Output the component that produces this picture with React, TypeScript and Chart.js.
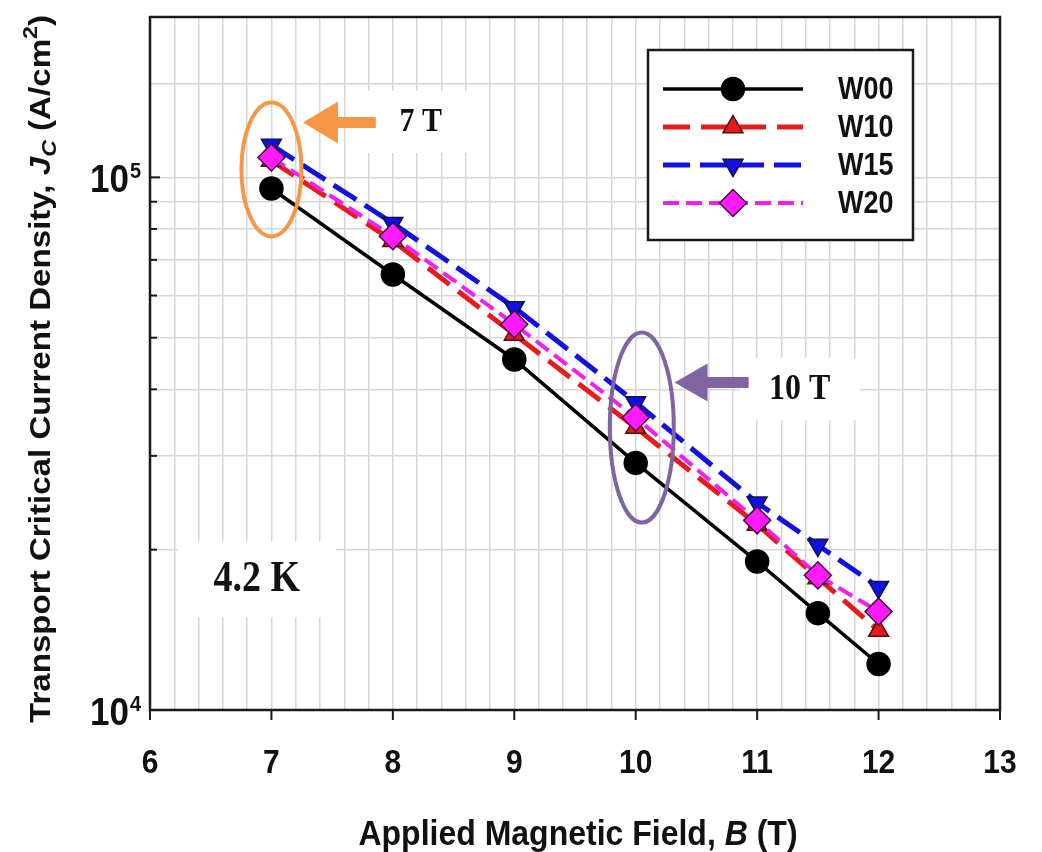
import React, { useEffect, useRef } from "react";
import { Chart, registerables } from "chart.js";

Chart.register(...registerables);

// ---- data ----
const fieldB = [7, 8, 9, 10, 11, 11.5, 12];
const jcW00 = [95300, 65700, 45500, 29100, 19000, 15200, 12200];
const jcW10 = [107500, 76000, 50700, 33900, 22300, 17700, 14100];
const jcW15 = [115000, 82000, 57000, 37800, 24500, 20400, 17000];
const jcW20 = [109000, 77500, 53000, 35400, 22700, 17900, 15300];
const seriesNames = ["W00", "W10", "W15", "W20"];
const xTickValues = [6, 7, 8, 9, 10, 11, 12, 13];
const yMajorTicks = [10000, 100000];
const yMajorExponents = ["4", "5"];
const yMinorTicks = [20000, 30000, 40000, 50000, 60000, 70000, 80000, 90000, 200000];

// ---- annotations (data coordinates) ----
const annotEllipses = [
  { x: 7, y: 103500, rx: 30, ry: 67, color: "#f79646" },
  { x: 10.05, y: 33900, rx: 32, ry: 95, color: "#8064a2" },
];
const annotArrows = [
  { from: 7.86, to: 7.26, y: 126800, color: "#f79646", head: 35, half: 21 },
  { from: 10.93, to: 10.32, y: 41200, color: "#8064a2", head: 33, half: 19 },
];
const annotTexts = [
  { text: "7 T", x: 8.23, y: 127000, size: 30, boxW: 110, boxH: 62 },
  { text: "10 T", x: 11.35, y: 40000, size: 32, boxW: 120, boxH: 62 },
  { text: "4.2 K", x: 6.88, y: 17600, size: 38, boxW: 158, boxH: 76 },
];

const SANS = '"Liberation Sans", Arial, sans-serif';
const SERIF = '"Liberation Serif", "Times New Roman", serif';

const styles = [
  { color: "#000000", dash: [] as number[], width: 3.5, point: "circle", radius: 11.5, bg: "#000000", border: "#000000", rot: 0 },
  { color: "#e51c1c", dash: [27, 11], width: 5, point: "triangle", radius: 11.5, bg: "#e8191c", border: "#4a1208", rot: 0 },
  { color: "#1010e0", dash: [27, 10], width: 5, point: "triangle", radius: 11.5, bg: "#1010e6", border: "#10104a", rot: 180 },
  { color: "#f21ef2", dash: [16, 7], width: 4, point: "rectRot", radius: 13.5, bg: "#ff1aff", border: "#4a0a3a", rot: 0 },
];
const seriesData = [jcW00, jcW10, jcW15, jcW20];

function drawRuns(ctx: CanvasRenderingContext2D, runs: { t: string; f: string; dy?: number }[], cx: number, cy: number, rot: number, sx: number, sy: number, fitWidth?: number) {
  ctx.save();
  ctx.translate(cx, cy);
  ctx.rotate(rot);
  let total = 0;
  for (const r of runs) {
    ctx.font = r.f;
    total += ctx.measureText(r.t).width;
  }
  let scaleX = sx;
  if (fitWidth) scaleX = fitWidth / total;
  ctx.scale(scaleX, sy);
  ctx.textBaseline = "alphabetic";
  ctx.textAlign = "left";
  ctx.fillStyle = "#111";
  let px = -total / 2;
  for (const r of runs) {
    ctx.font = r.f;
    ctx.fillText(r.t, px, r.dy || 0);
    px += ctx.measureText(r.t).width;
  }
  ctx.restore();
}

function drawMarker(ctx: CanvasRenderingContext2D, kind: string, x: number, y: number, r: number, rot: number) {
  ctx.beginPath();
  if (kind === "circle") {
    ctx.arc(x, y, r, 0, Math.PI * 2);
  } else if (kind === "triangle") {
    let a = (rot * Math.PI) / 180;
    for (let i = 0; i < 3; i++) {
      const px = x + Math.sin(a) * r;
      const py = y - Math.cos(a) * r;
      if (i === 0) ctx.moveTo(px, py);
      else ctx.lineTo(px, py);
      a += (2 * Math.PI) / 3;
    }
    ctx.closePath();
  } else {
    ctx.moveTo(x - r, y);
    ctx.lineTo(x, y - r);
    ctx.lineTo(x + r, y);
    ctx.lineTo(x, y + r);
    ctx.closePath();
  }
  ctx.fill();
  ctx.stroke();
}

const overlayPlugin = {
  id: "overlay",
  beforeDatasetsDraw(chart: any) {
    const { ctx, scales } = chart;
    const x = scales.x, y = scales.y;
    ctx.save();
    ctx.fillStyle = "#ffffff";
    for (const t of annotTexts) {
      const cx = x.getPixelForValue(t.x);
      const cy = y.getPixelForValue(t.y);
      ctx.fillRect(cx - t.boxW / 2, cy - t.boxH / 2, t.boxW, t.boxH);
    }
    ctx.restore();
  },
  afterDatasetsDraw(chart: any) {
    const { ctx, chartArea: ca, scales } = chart;
    const x = scales.x, y = scales.y;
    ctx.save();

    // ellipses
    for (const e of annotEllipses) {
      ctx.beginPath();
      ctx.ellipse(x.getPixelForValue(e.x), y.getPixelForValue(e.y), e.rx, e.ry, 0, 0, Math.PI * 2);
      ctx.strokeStyle = e.color;
      ctx.lineWidth = 4;
      ctx.stroke();
    }
    // arrows
    for (const a of annotArrows) {
      const x1 = x.getPixelForValue(a.from);
      const x2 = x.getPixelForValue(a.to);
      const py = y.getPixelForValue(a.y);
      const hb = x2 + a.head;
      ctx.beginPath();
      ctx.moveTo(x1, py - 5.5);
      ctx.lineTo(hb, py - 5.5);
      ctx.lineTo(hb, py - a.half);
      ctx.lineTo(x2, py);
      ctx.lineTo(hb, py + a.half);
      ctx.lineTo(hb, py + 5.5);
      ctx.lineTo(x1, py + 5.5);
      ctx.closePath();
      ctx.fillStyle = a.color;
      ctx.fill();
    }
    // annotation texts
    for (const t of annotTexts) {
      const cx = x.getPixelForValue(t.x);
      const cy = y.getPixelForValue(t.y);
      ctx.save();
      ctx.translate(cx, cy);
      ctx.scale(1, 1.15);
      ctx.font = `bold ${t.size}px ${SERIF}`;
      ctx.textAlign = "center";
      ctx.textBaseline = "middle";
      ctx.fillStyle = "#111";
      ctx.fillText(t.text, 0, 0);
      ctx.restore();
    }

    // frame
    ctx.strokeStyle = "#1a1a1a";
    ctx.lineWidth = 2.5;
    ctx.strokeRect(ca.left, ca.top, ca.right - ca.left, ca.bottom - ca.top);

    // y ticks (inward)
    ctx.lineWidth = 2;
    for (const v of yMajorTicks) {
      const py = y.getPixelForValue(v);
      ctx.beginPath();
      ctx.moveTo(ca.left, py);
      ctx.lineTo(ca.left + 10, py);
      ctx.stroke();
    }
    for (const v of yMinorTicks) {
      const py = y.getPixelForValue(v);
      ctx.beginPath();
      ctx.moveTo(ca.left, py);
      ctx.lineTo(ca.left + 7, py);
      ctx.stroke();
    }
    // x ticks (outward)
    for (const v of xTickValues) {
      const px = x.getPixelForValue(v);
      ctx.beginPath();
      ctx.moveTo(px, ca.bottom);
      ctx.lineTo(px, ca.bottom + 10);
      ctx.stroke();
    }

    // x tick labels
    ctx.fillStyle = "#111";
    for (const v of xTickValues) {
      const px = x.getPixelForValue(v);
      ctx.save();
      ctx.translate(px, ca.bottom + 63);
      ctx.scale(1, 1.12);
      ctx.font = `bold 30px ${SANS}`;
      ctx.textAlign = "center";
      ctx.textBaseline = "alphabetic";
      ctx.fillText(String(v), 0, 0);
      ctx.restore();
    }
    // y tick labels 10^n
    yMajorTicks.forEach((v, i) => {
      const py = y.getPixelForValue(v);
      ctx.save();
      ctx.translate(ca.left - 9, py + 15);
      ctx.scale(1, 1.1);
      ctx.textBaseline = "alphabetic";
      ctx.textAlign = "right";
      ctx.font = `bold 20px ${SANS}`;
      const ew = ctx.measureText(yMajorExponents[i]).width;
      ctx.fillText(yMajorExponents[i], 0, -13);
      ctx.font = `bold 35px ${SANS}`;
      ctx.fillText("10", -ew - 1, 0);
      ctx.restore();
    });

    // axis titles
    drawRuns(
      ctx,
      [
        { t: "Applied Magnetic Field, ", f: `bold 32px ${SANS}` },
        { t: "B", f: `italic bold 32px ${SANS}` },
        { t: " (T)", f: `bold 32px ${SANS}` },
      ],
      (ca.left + ca.right) / 2 + 3,
      845,
      0,
      1,
      1.12
    );
    drawRuns(
      ctx,
      [
        { t: "Transport Critical Current Density, ", f: `bold 30px ${SANS}` },
        { t: "J", f: `italic bold 30px ${SANS}` },
        { t: "C", f: `italic bold 21px ${SANS}`, dy: 6 },
        { t: " (A/cm", f: `bold 30px ${SANS}` },
        { t: "2", f: `bold 21px ${SANS}`, dy: -13 },
        { t: ")", f: `bold 30px ${SANS}` },
      ],
      50,
      369,
      -Math.PI / 2,
      1,
      1,
      708
    );

    // legend
    const lx = 648, ly = 50, lw = 265, lh = 190;
    ctx.fillStyle = "#ffffff";
    ctx.fillRect(lx, ly, lw, lh);
    ctx.strokeStyle = "#1a1a1a";
    ctx.lineWidth = 2.5;
    ctx.setLineDash([]);
    ctx.strokeRect(lx, ly, lw, lh);
    const rows = [89, 127, 165, 203];
    seriesNames.forEach((name, i) => {
      const s = styles[i];
      const ry = rows[i];
      ctx.save();
      ctx.strokeStyle = s.color;
      ctx.lineWidth = s.width;
      ctx.setLineDash(s.dash);
      ctx.beginPath();
      ctx.moveTo(663, ry);
      ctx.lineTo(803, ry);
      ctx.stroke();
      ctx.setLineDash([]);
      ctx.fillStyle = s.bg;
      ctx.strokeStyle = s.border;
      ctx.lineWidth = 1.5;
      drawMarker(ctx, s.point, 733, ry, s.radius, s.rot);
      ctx.restore();
      ctx.save();
      ctx.translate(838, ry);
      ctx.scale(1, 1.18);
      ctx.font = `bold 27px ${SANS}`;
      ctx.textAlign = "left";
      ctx.textBaseline = "middle";
      ctx.fillStyle = "#111";
      ctx.fillText(name, 0, 1);
      ctx.restore();
    });

    ctx.restore();
  },
};

export default function App() {
  const ref = useRef<HTMLCanvasElement>(null);
  useEffect(() => {
    document.body.style.margin = "0";
    const canvas = ref.current!;
    const datasets = seriesNames.map((name, i) => {
      const s = styles[i];
      return {
        label: name,
        data: fieldB.map((b, j) => ({ x: b, y: seriesData[i][j] })),
        borderColor: s.color,
        borderWidth: s.width,
        borderDash: s.dash,
        backgroundColor: s.bg,
        pointStyle: s.point,
        pointRadius: s.radius,
        pointRotation: s.rot,
        pointBackgroundColor: s.bg,
        pointBorderColor: s.border,
        pointBorderWidth: 1.5,
        fill: false,
        tension: 0,
        order: 3 - i,
      };
    });
    const chart = new Chart(canvas, {
      type: "line",
      data: { datasets } as any,
      options: {
        responsive: false,
        animation: false,
        layout: { padding: { left: 150, right: 42, top: 17, bottom: 142 } },
        plugins: { legend: { display: false }, tooltip: { enabled: false } },
        scales: {
          x: {
            type: "linear",
            min: 6,
            max: 13,
            ticks: { display: false, stepSize: 0.2 },
            grid: { color: "#d6d6d6", lineWidth: 1.5, drawTicks: false },
            border: { display: false },
          },
          y: {
            type: "logarithmic",
            min: 10000,
            max: 200000,
            ticks: { display: false },
            grid: { color: "#d6d6d6", lineWidth: 1.5, drawTicks: false },
            border: { display: false },
          },
        },
      } as any,
      plugins: [overlayPlugin],
    });
    return () => chart.destroy();
  }, []);
  return (
    <div style={{ width: 1042, height: 852, background: "#fff" }}>
      <canvas ref={ref} width={1042} height={852} style={{ display: "block" }} />
    </div>
  );
}
